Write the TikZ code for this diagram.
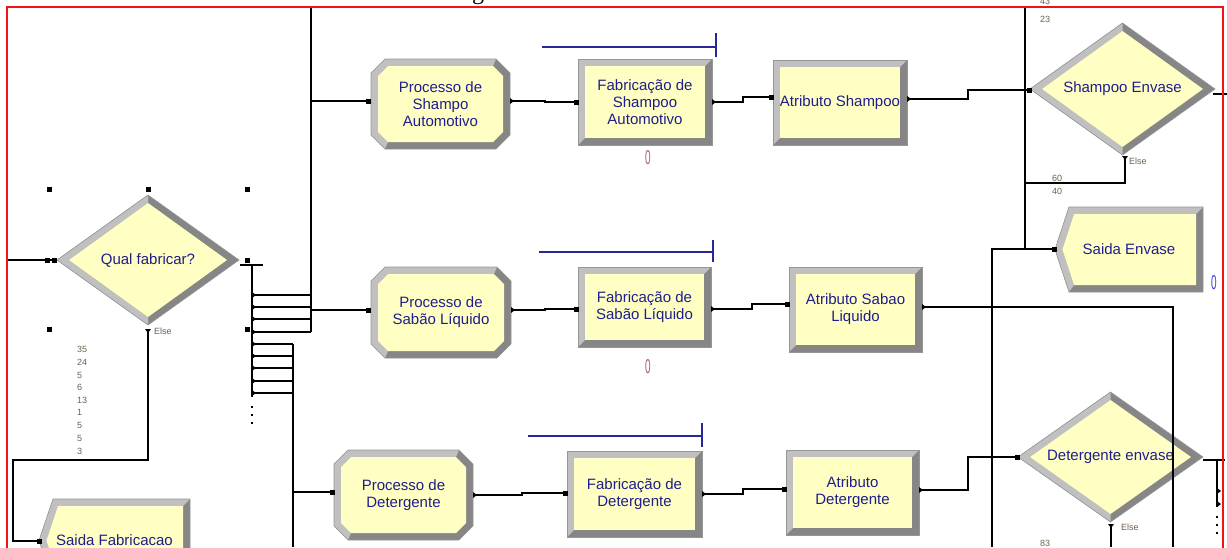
\documentclass[tikz,border=0pt]{standalone}
\usepackage{fontspec}
\setmainfont{Liberation Sans}
\newfontfamily\titleserif{Liberation Serif}
\usetikzlibrary{calc}

\definecolor{modfill}{RGB}{255,255,196}
\definecolor{bevlight}{RGB}{192,192,192}
\definecolor{bevdark}{RGB}{134,134,134}
\definecolor{bevline}{RGB}{150,150,150}
\definecolor{modtxt}{RGB}{30,30,140}
\definecolor{numtxt}{RGB}{110,96,80}
\definecolor{cnttxt}{RGB}{176,90,120}
\definecolor{cntblue}{RGB}{60,60,230}
\definecolor{resblue}{RGB}{40,40,150}
\definecolor{framered}{RGB}{240,20,20}

\tikzset{
  conn/.style={draw=black, line width=1.1pt},
  resline/.style={draw=resblue, line width=1.2pt},
  bevedge/.style={draw=bevline, line width=0.6pt},
  modtext/.style={text=modtxt, font=\fontsize{15}{16.8}\selectfont, align=center, inner sep=0pt},
  smalllbl/.style={text=numtxt, font=\fontsize{9}{10}\selectfont, inner sep=0pt, anchor=west},
  cntlbl/.style={font=\fontsize{20}{20}\selectfont, inner sep=0pt},
  pics/insq/.style={code={\fill[black] (-2.5,-2.5) rectangle (2.5,2.5);}},
  pics/outtri/.style={code={\fill[black] (-1,-3) -- (3,0) -- (-1,3) -- cycle;}},
  pics/downtri/.style={code={\fill[black] (-3,-1) -- (0,3) -- (3,-1) -- cycle;}},
  pics/selhandle/.style={code={\fill[black] (-2.5,-2.5) rectangle (2.5,2.5);}},
  pics/dotmark/.style={code={\fill[black] (-0.8,-0.8) rectangle (0.8,0.8);}},
}

% rectangular module: name, left, top, right, bottom, text
\newcommand\rectmod[6]{%
  \fill[bevdark] (#2,#3) rectangle (#4,#5);
  \fill[bevlight] (#2,#5) -- (#2,#3) -- (#4,#3) -- ({#4-7},{#3+7}) -- ({#2+7},{#3+7}) -- ({#2+7},{#5-7}) -- cycle;
  \fill[modfill] ({#2+7},{#3+7}) rectangle ({#4-7},{#5-7});
  \draw[bevedge] (#2,#3) rectangle (#4,#5);
  \node[modtext] (#1) at ({(#2+#4)/2},{(#3+#5)/2}) {#6};
}

% process module with cut corners: name, left, top, right, bottom, text
\newcommand\octmod[6]{%
  \fill[bevdark] ({#2+14},#3) -- ({#4-14},#3) -- (#4,{#3+14}) -- (#4,{#5-14}) -- ({#4-14},#5) -- ({#2+14},#5) -- (#2,{#5-14}) -- (#2,{#3+14}) -- cycle;
  \fill[bevlight] ({#2+14},#5) -- (#2,{#5-14}) -- (#2,{#3+14}) -- ({#2+14},#3) -- ({#4-14},#3) -- ({#4-17},{#3+7}) -- ({#2+17},{#3+7}) -- ({#2+7},{#3+17}) -- ({#2+7},{#5-17}) -- ({#2+17},{#5-7}) -- cycle;
  \fill[modfill] ({#2+17},{#3+7}) -- ({#4-17},{#3+7}) -- ({#4-7},{#3+17}) -- ({#4-7},{#5-17}) -- ({#4-17},{#5-7}) -- ({#2+17},{#5-7}) -- ({#2+7},{#5-17}) -- ({#2+7},{#3+17}) -- cycle;
  \draw[bevedge] ({#2+14},#3) -- ({#4-14},#3) -- (#4,{#3+14}) -- (#4,{#5-14}) -- ({#4-14},#5) -- ({#2+14},#5) -- (#2,{#5-14}) -- (#2,{#3+14}) -- cycle;
  \node[modtext] (#1) at ({(#2+#4)/2},{(#3+#5)/2}) {#6};
}

% decision module: name, centre x, centre y, half width, half height, text
\newcommand\decmod[6]{%
  \fill[bevdark] ({#2-#4},#3) -- (#2,{#3-#5}) -- ({#2+#4},#3) -- (#2,{#3+#5}) -- cycle;
  \fill[bevlight] (#2,{#3-#5}) -- ({#2-#4},#3) -- (#2,{#3+#5}) -- (#2,{#3+#5-8}) -- ({#2-#4+12},#3) -- (#2,{#3-#5+8}) -- cycle;
  \fill[modfill] ({#2-#4+12},#3) -- (#2,{#3-#5+8}) -- ({#2+#4-12},#3) -- (#2,{#3+#5-8}) -- cycle;
  \draw[bevedge] ({#2-#4},#3) -- (#2,{#3-#5}) -- ({#2+#4},#3) -- (#2,{#3+#5}) -- cycle;
  \node[modtext] (#1) at (#2,#3) {#6};
}

% dispose module: name, tip x, left, top, right, bottom, text
\newcommand\dispmod[7]{%
  \fill[bevdark] (#3,#4) -- (#5,#4) -- (#5,#6) -- (#3,#6) -- (#2,{(#4+#6)/2}) -- cycle;
  \fill[bevlight] (#3,#6) -- (#2,{(#4+#6)/2}) -- (#3,#4) -- (#5,#4) -- ({#5-7},{#4+7}) -- ({#3+5},{#4+7}) -- ({#2+7.4},{(#4+#6)/2}) -- ({#3+5},{#6-7}) -- cycle;
  \fill[modfill] ({#3+5},{#4+7}) -- ({#5-7},{#4+7}) -- ({#5-7},{#6-7}) -- ({#3+5},{#6-7}) -- ({#2+7.4},{(#4+#6)/2}) -- cycle;
  \draw[bevedge] (#3,#4) -- (#5,#4) -- (#5,#6) -- (#3,#6) -- (#2,{(#4+#6)/2}) -- cycle;
  \node[modtext] (#1) at ({(#2+#5)/2},{(#4+#6)/2}) {#7};
}

\begin{document}
\begin{tikzpicture}[x=1pt,y=-1pt]
\useasboundingbox (0,0) rectangle (1227,547);
\fill[white] (0,0) rectangle (1227,547);

% title line above the frame (only its descender shows)
\node[font=\titleserif\fontsize{24}{24}\selectfont, anchor=base, inner sep=0pt] (ttl) at (478,-0.5) {g};

% ---------- modules ----------
\decmod{qual}{148}{260}{91}{65}{Qual fabricar?}
\dispmod{saidaFab}{39}{53}{499}{190}{582}{Saida Fabricacao}

\octmod{procSh}{371}{59}{510}{149}{Processo de\\Shampo\\Automotivo}
\rectmod{fabSh}{578}{59}{712}{145}{Fabricação de\\Shampoo\\Automotivo}
\rectmod{atrSh}{773}{60}{907}{145}{Atributo Shampoo}
\decmod{shEnv}{1122.5}{89}{92.5}{66}{Shampoo Envase}
\dispmod{saidaEnv}{1055}{1069}{207}{1203}{292}{Saida Envase}

\octmod{procSa}{371}{267}{511}{358}{Processo de\\Sabão Líquido}
\rectmod{fabSa}{578}{267}{711}{347}{Fabricação de\\Sabão Líquido}
\rectmod{atrSa}{789}{267}{922}{352}{Atributo Sabao\\Liquido}

\octmod{procDe}{334}{450}{473}{540}{Processo de\\Detergente}
\rectmod{fabDe}{567}{451}{702}{537}{Fabricação de\\Detergente}
\rectmod{atrDe}{786}{450}{919}{535}{Atributo\\Detergente}
\decmod{deEnv}{1110.5}{457}{92.5}{65}{Detergente envase}

% ---------- ports ----------
\coordinate (qual-in) at (54,260);
\coordinate (qual-out) at (240,265);
\coordinate (qual-else) at (148,330);
\coordinate (saidaFab-in) at (39,541);
\coordinate (procSh-in) at (368,101);
\coordinate (procSh-out) at (512,101);
\coordinate (fabSh-in) at (576,102);
\coordinate (fabSh-out) at (714,102);
\coordinate (atrSh-in) at (771,97);
\coordinate (atrSh-out) at (909,99);
\coordinate (shEnv-in) at (1029,90);
\coordinate (shEnv-out) at (1213,94);
\coordinate (shEnv-else) at (1125,157);
\coordinate (saidaEnv-in) at (1054,249);
\coordinate (procSa-in) at (368,310);
\coordinate (procSa-out) at (513,310);
\coordinate (fabSa-in) at (576,309);
\coordinate (fabSa-out) at (713,309);
\coordinate (atrSa-in) at (787,304);
\coordinate (atrSa-out) at (924,307);
\coordinate (procDe-in) at (332,492);
\coordinate (procDe-out) at (475,495);
\coordinate (fabDe-in) at (565,493);
\coordinate (fabDe-out) at (704,494);
\coordinate (atrDe-in) at (784,489);
\coordinate (atrDe-out) at (921,490);
\coordinate (deEnv-in) at (1017,457);
\coordinate (deEnv-out) at (1203,460);
\coordinate (deEnv-else) at (1111,525);

% free ends at the frame and junctions
\coordinate (leftIn) at (7,260);
\coordinate (busSh) at (311,7);
\coordinate (busDe) at (293,547);
\coordinate (fanTop) at (252,265);
\coordinate (fanEnd) at (252,397);
\coordinate (envTop) at (1025,7);
\coordinate (envLow) at (992,547);
\coordinate (saLow) at (1173,547);
\coordinate (shRight) at (1227,94);
\coordinate (deRight) at (1225,460);
\coordinate (deBus) at (1217,460);
\coordinate (deElseLow) at (1111,547);

% ---------- connectors ----------
\draw[conn] (leftIn) -- (qual-in);
\draw[conn] (qual-out) -- (263,265);
\draw[conn] (fanTop) -- (fanEnd);
\foreach \yy in {295,307,319,332} {
  \draw[conn] (252,\yy) -- (311,\yy);
  \pic at (253,\yy) {outtri};
}
\foreach \yy in {344,356,368,381,393} {
  \draw[conn] (252,\yy) -- (293,\yy);
  \pic at (253,\yy) {outtri};
}
\foreach \yy in {407,415,423} { \pic at (252,\yy) {dotmark}; }
\draw[conn] (busSh) -- (311,332);
\draw[conn] (293,344) -- (busDe);
\draw[conn] (311,101) -- (procSh-in);
\draw[conn] (311,310) -- (procSa-in);
\draw[conn] (293,492) -- (procDe-in);

\draw[conn] (qual-else) |- (13,460) |- (saidaFab-in);

\draw[conn] (procSh-out) -- ++(33,0) |- (fabSh-in);
\draw[conn] (fabSh-out) -- ++(29,0) |- (atrSh-in);
\draw[conn] (atrSh-out) -- ++(59,0) |- (shEnv-in);
\draw[conn] (shEnv-out) -- (shRight);
\draw[conn] (shEnv-else) |- (1025,183);
\draw[conn] (envTop) |- (saidaEnv-in);
\draw[conn] (envLow) |- (saidaEnv-in);

\draw[conn] (procSa-out) -- ++(32,0) |- (fabSa-in);
\draw[conn] (fabSa-out) -- ++(39,0) |- (atrSa-in);
\draw[conn] (atrSa-out) -| (saLow);

\draw[conn] (procDe-out) -- ++(47,0) |- (fabDe-in);
\draw[conn] (fabDe-out) -- ++(39,0) |- (atrDe-in);
\draw[conn] (atrDe-out) -- ++(47,0) |- (deEnv-in);
\draw[conn] (deEnv-out) -- (deRight);
\draw[conn] (deBus) -- (1217,507);
\pic at (1218,491) {outtri};
\pic at (1218,504) {outtri};
\foreach \yy in {517,525,533} { \pic at (1217,\yy) {dotmark}; }
\draw[conn] (deEnv-else) -- (deElseLow);

% ---------- port marks ----------
\foreach \p in {qual-in,saidaFab-in,procSh-in,fabSh-in,atrSh-in,shEnv-in,saidaEnv-in,procSa-in,fabSa-in,atrSa-in,procDe-in,fabDe-in,atrDe-in,deEnv-in} {
  \pic at (\p) {insq};
}
\foreach \p in {procSh-out,fabSh-out,atrSh-out,procSa-out,fabSa-out,atrSa-out,procDe-out,fabDe-out,atrDe-out} {
  \pic at ($(\p)+(-1,0)$) {outtri};
}
\pic at (qual-else) {downtri};
\pic at (shEnv-else) {downtri};
\pic at (deEnv-else) {downtri};

% ---------- selection handles ----------
\foreach \hx/\hy in {49/189,148/189,247/189,47/260,247/260,49/329,247/329} {
  \pic at (\hx,\hy) {selhandle};
}

% ---------- resource lines ----------
\draw[resline] (542,47) -- (716,47);
\draw[resline] (716,33) -- (716,57);
\draw[resline] (539,252) -- (713,252);
\draw[resline] (713,240) -- (713,262);
\draw[resline] (528,436) -- (702,436);
\draw[resline] (702,423) -- (702,447);

% ---------- counters ----------
\node[cntlbl, text=cnttxt] (cntSh) at (648,158) {\scalebox{0.5}[1]{0}};
\node[cntlbl, text=cnttxt] (cntSa) at (648,367) {\scalebox{0.5}[1]{0}};
\node[cntlbl, text=cntblue] (cntEnv) at (1214,283) {\scalebox{0.5}[1]{0}};

% ---------- branch labels ----------
\node[smalllbl] (elseQ) at (154,331) {Else};
\node[smalllbl] (elseS) at (1129,161) {Else};
\node[smalllbl] (elseD) at (1121,527) {Else};
\node[smalllbl] (pQ1) at (77,349) {35};
\node[smalllbl] (pQ2) at (77,362) {24};
\node[smalllbl] (pQ3) at (77,375) {5};
\node[smalllbl] (pQ4) at (77,387) {6};
\node[smalllbl] (pQ5) at (77,400) {13};
\node[smalllbl] (pQ6) at (77,412) {1};
\node[smalllbl] (pQ7) at (77,425) {5};
\node[smalllbl] (pQ8) at (77,438) {5};
\node[smalllbl] (pQ9) at (77,451) {3};
\node[smalllbl] (pS0) at (1040,1) {43};
\node[smalllbl] (pS1) at (1040,19) {23};
\node[smalllbl] (pS2) at (1052,178) {60};
\node[smalllbl] (pS3) at (1052,191) {40};
\node[smalllbl] (pD1) at (1040,543) {83};

% ---------- frame ----------
\draw[framered, line width=1.8pt] (7,560) -- (7,7) -- (1223,7) -- (1223,560);
\end{tikzpicture}
\end{document}
